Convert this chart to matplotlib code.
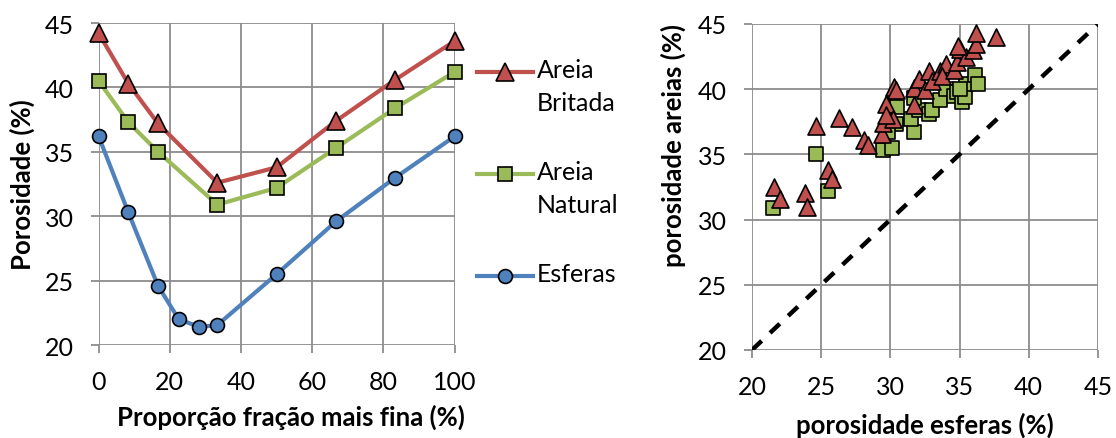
import matplotlib.pyplot as plt
from matplotlib.lines import Line2D

plt.rcParams['font.family'] = ['Lato', 'DejaVu Sans']

# left chart data
fracao = [0, 8.33, 16.67, 33.33, 50, 66.67, 83.33, 100]
britada = [44.2, 40.3, 37.2, 32.6, 33.8, 37.4, 40.6, 43.6]
natural = [40.5, 37.3, 35.0, 30.9, 32.2, 35.3, 38.4, 41.2]
fracao_esf = [0, 8.33, 16.67, 22.5, 28.3, 33.33, 50, 66.67, 83.33, 100]
esferas = [36.2, 30.3, 24.6, 22.0, 21.4, 21.55, 25.5, 29.6, 33.0, 36.2]

# right chart data
esf_britada = [21.6, 22.0, 23.8, 24.0, 24.6, 25.5, 25.8, 26.3, 27.2, 28.1,
               28.4, 29.4, 29.5, 29.7, 30.2, 30.3, 30.4, 29.7, 31.7, 31.7,
               32.1, 32.5, 32.8, 33.0, 33.6, 34.0, 33.7, 34.6, 34.8, 35.0,
               35.5, 36.0, 36.2, 36.2, 37.6, 34.9]
por_britada = [32.5, 31.6, 32.0, 31.0, 37.2, 33.8, 33.1, 37.8, 37.1, 36.1,
               35.7, 36.6, 37.4, 38.9, 37.7, 40.2, 39.9, 38.0, 38.8, 40.1,
               40.8, 39.9, 41.4, 40.6, 41.4, 41.9, 41.0, 41.5, 42.1, 43.1,
               42.5, 43.0, 43.5, 44.3, 44.0, 43.3]
esf_natural = [21.5, 24.6, 25.5, 29.5, 30.1, 31.7, 31.5, 32.1, 32.8, 33.0,
               30.5, 30.4, 29.8, 33.6, 34.0, 34.6, 34.8, 35.2, 35.4, 35.5,
               36.1, 36.3, 35.0, 31.7]
por_natural = [30.9, 35.0, 32.2, 35.3, 35.5, 36.7, 37.7, 38.4, 38.1, 38.4,
               38.6, 37.3, 36.7, 39.2, 40.0, 39.5, 39.8, 39.0, 39.4, 40.4,
               41.1, 40.4, 40.0, 39.3]
ref_line = [20, 45]

vermelho = '#C0504D'
verde = '#9BBB59'
azul = '#4F81BD'
grade = '#8C8C8C'

fig = plt.figure(figsize=(11.16, 4.39), dpi=100)
ax1 = fig.add_axes([0.0884, 0.2118, 0.319, 0.7335])
ax2 = fig.add_axes([0.6738, 0.2005, 0.31, 0.7426])


def estilo(ax):
    for s in ax.spines.values():
        s.set_visible(False)
    ax.grid(True, color=grade, linewidth=1.3)
    ax.set_axisbelow(True)
    ax.tick_params(length=6, width=1.3, color=grade, labelsize=18, pad=12)


# left chart
ax1.plot(fracao, britada, color=vermelho, lw=3, marker='^', ms=12.5,
         mfc=vermelho, mec='black', mew=1.2, clip_on=False, zorder=3)
ax1.plot(fracao, natural, color=verde, lw=3, marker='s', ms=9.5,
         mfc=verde, mec='black', mew=1.2, clip_on=False, zorder=3)
ax1.plot(fracao_esf, esferas, color=azul, lw=3, marker='o', ms=10,
         mfc=azul, mec='black', mew=1.2, clip_on=False, zorder=3)
ax1.set_xlim(0, 100)
ax1.set_ylim(20, 45)
ax1.set_xticks(range(0, 101, 20))
ax1.set_yticks(range(20, 46, 5))
estilo(ax1)
ax1.set_xlabel('Proporção fração mais fina (%)', fontsize=18.5,
               fontweight='bold')
ax1.set_ylabel('Porosidade (%)', fontsize=18.5, fontweight='bold')
ax1.xaxis.set_label_coords(0.54, -0.182)
ax1.yaxis.set_label_coords(-0.178, 0.5)

# legend drawn by hand so the marker sits on the first text line
legenda = [('Areia\nBritada', vermelho, '^', 12.5),
           ('Areia\nNatural', verde, 's', 9.5),
           ('Esferas', azul, 'o', 10)]
for i, (nome, cor, mk, tam) in enumerate(legenda):
    yy = 1 - (73 + i * 102) / 439
    fig.add_artist(Line2D([477 / 1116, 533 / 1116], [yy, yy], color=cor,
                          lw=3, transform=fig.transFigure))
    fig.add_artist(Line2D([505 / 1116], [yy], marker=mk, ms=tam, mfc=cor,
                          mec='black', mew=1.2, transform=fig.transFigure))
    fig.text(537 / 1116, yy + 14 / 439, nome, fontsize=18, va='top',
             ha='left', linespacing=1.55)

# right chart
ax2.plot(ref_line, ref_line, color='black', lw=3.2, ls=(0, (3, 2.6)),
         zorder=2)
ax2.scatter(esf_natural, por_natural, marker='s', s=95, c=verde,
            edgecolors='black', linewidths=1.2, zorder=3)
ax2.scatter(esf_britada, por_britada, marker='^', s=150, c=vermelho,
            edgecolors='black', linewidths=1.2, zorder=4)
ax2.set_xlim(20, 45)
ax2.set_ylim(20, 45)
ax2.set_xticks(range(20, 46, 5))
ax2.set_yticks(range(20, 46, 5))
estilo(ax2)
ax2.set_xlabel('porosidade esferas (%)', fontsize=18.5, fontweight='bold')
ax2.set_ylabel('porosidade areias (%)', fontsize=18.5, fontweight='bold')
ax2.xaxis.set_label_coords(0.5, -0.19)
ax2.yaxis.set_label_coords(-0.19, 0.63)

fig.savefig('out.png', dpi=100)
